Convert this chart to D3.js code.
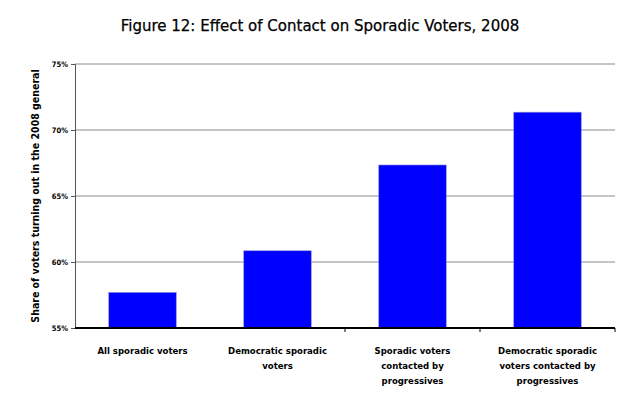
<!DOCTYPE html>
<html>
<head>
<meta charset="utf-8">
<script src="https://cdn.jsdelivr.net/npm/d3@7"></script>
<style>
  body { margin: 0; background: #fff; }
  text { fill: #000; }
</style>
</head>
<body>
<div id="chart"></div>
<script>
// datos
const categorias = [
  ["All sporadic voters"],
  ["Democratic sporadic", "voters"],
  ["Sporadic voters", "contacted by", "progressives"],
  ["Democratic sporadic", "voters contacted by", "progressives"]
];
const valores = [0.577, 0.6085, 0.6735, 0.7135];
const ticksY = [0.55, 0.60, 0.65, 0.70, 0.75];

const svgWidth = 640;
const svgHeight = 407;
const margin = { top: 64, right: 25, bottom: 79, left: 75 };
const width = svgWidth - margin.left - margin.right;
const height = svgHeight - margin.top - margin.bottom;

const fuenteEstrecha = "'DejaVu Sans Condensed', 'Liberation Sans Narrow', sans-serif";

const svg = d3.select("#chart")
  .append("svg")
  .attr("width", svgWidth)
  .attr("height", svgHeight);

// titulo
svg.append("text")
  .attr("x", 320)
  .attr("y", 31)
  .attr("text-anchor", "middle")
  .style("font-family", "'DejaVu Sans', sans-serif")
  .style("font-size", "15px")
  .style("stroke", "#000")
  .style("stroke-width", "0.25px")
  .text("Figure 12: Effect of Contact on Sporadic Voters, 2008");

const g = svg.append("g")
  .attr("transform", `translate(${margin.left},${margin.top})`);

const xScale = d3.scaleBand()
  .domain(d3.range(categorias.length))
  .range([0, width])
  .paddingInner(0.5)
  .paddingOuter(0.25);

const yScale = d3.scaleLinear()
  .domain([0.55, 0.75])
  .range([height, 0]);

// lineas de cuadricula
g.selectAll(".grid")
  .data(ticksY.slice(1))
  .enter().append("line")
  .attr("x1", 0)
  .attr("x2", width)
  .attr("y1", d => yScale(d))
  .attr("y2", d => yScale(d))
  .attr("stroke", "#8c8c8c")
  .attr("stroke-width", 1);

// barras
g.selectAll(".bar")
  .data(valores)
  .enter().append("rect")
  .attr("x", (d, i) => xScale(i))
  .attr("y", d => yScale(d))
  .attr("width", xScale.bandwidth())
  .attr("height", d => height - yScale(d))
  .attr("fill", "#0000ff")
  .attr("stroke", "#8f8fd8")
  .attr("stroke-width", 0.6);

// eje y
const yAxis = g.append("g")
  .call(d3.axisLeft(yScale).tickValues(ticksY).tickFormat(d3.format(".0%")).tickSize(4).tickPadding(3));
yAxis.select(".domain").attr("stroke", "#555");
yAxis.selectAll(".tick line").attr("stroke", "#555");
yAxis.selectAll(".tick text")
  .style("font-family", fuenteEstrecha)
  .style("font-weight", "bold")
  .style("font-size", "7.5px");

// eje x
const paso = width / categorias.length;
g.append("line")
  .attr("x1", 0)
  .attr("x2", width)
  .attr("y1", height)
  .attr("y2", height)
  .attr("stroke", "#000")
  .attr("stroke-width", 2);

g.selectAll(".xtick")
  .data(d3.range(2, categorias.length + 1))
  .enter().append("line")
  .attr("x1", d => d * paso)
  .attr("x2", d => d * paso)
  .attr("y1", height)
  .attr("y2", height + 4)
  .attr("stroke", "#000");

const etiquetas = g.selectAll(".xlabel")
  .data(categorias)
  .enter().append("text")
  .attr("text-anchor", "middle")
  .attr("transform", (d, i) => `translate(${xScale(i) + xScale.bandwidth() / 2},${height + 26})`)
  .style("font-family", fuenteEstrecha)
  .style("font-weight", "bold")
  .style("font-size", "9.5px");

etiquetas.selectAll("tspan")
  .data(d => d)
  .enter().append("tspan")
  .attr("x", 0)
  .attr("y", (d, i) => i * 15)
  .text(d => d);

// titulo eje y
g.append("text")
  .attr("transform", "rotate(-90)")
  .attr("x", -height / 2)
  .attr("y", -margin.left + 39)
  .attr("text-anchor", "middle")
  .style("font-family", fuenteEstrecha)
  .style("font-weight", "bold")
  .style("font-size", "10.5px")
  .text("Share of voters turning out in the 2008 general");
</script>
</body>
</html>
